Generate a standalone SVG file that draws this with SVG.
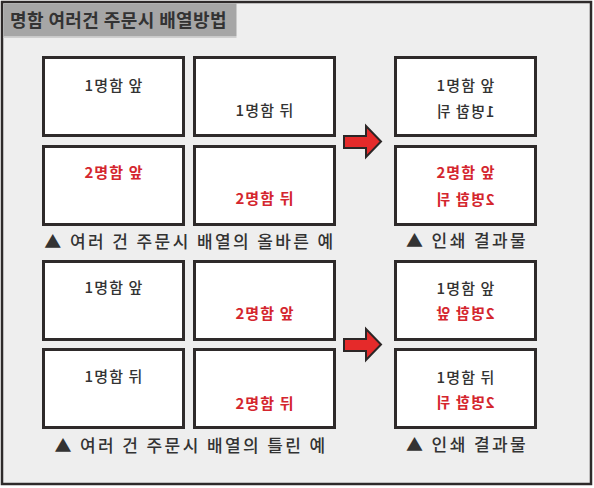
<svg xmlns="http://www.w3.org/2000/svg" width="594" height="488" viewBox="0 0 594 488">
<style>
text{font-family:"Noto Sans CJK KR","Noto Sans",sans-serif;fill:#333}
.card{fill:#fff;stroke:#2e2a2a;stroke-width:3}
.t{font-size:15px;font-weight:500;text-anchor:middle;letter-spacing:1.1px}
.red{fill:#d4262e;font-weight:bold}
.cap{font-size:17px;font-weight:500;text-anchor:middle;letter-spacing:2.4px}
.arrow{fill:#e52a2a;stroke:#2b2626;stroke-width:2;stroke-linejoin:miter}
</style>
<rect x="2" y="2" width="589" height="482" fill="#eeeeee" stroke="#2e2a2a" stroke-width="2.5"/>
<g id="title">
<rect x="3.5" y="3.5" width="233" height="33" fill="#a6a6a6"/>
<line x1="3.5" y1="37.5" x2="236.5" y2="37.5" stroke="#cfcfcf" stroke-width="1"/>
<text x="10" y="27" style="font-size:18px;font-weight:bold;letter-spacing:0.4px">명함 여러건 주문시 배열방법</text>
</g>
<g id="r1-front"><rect class="card" x="43.5" y="57.5" width="140" height="78"/><text class="t" x="114" y="91">1명함 앞</text></g>
<g id="r1-back"><rect class="card" x="194.5" y="57.5" width="140" height="78"/><text class="t" x="265" y="116">1명함 뒤</text></g>
<g id="r2-front"><rect class="card" x="43.5" y="146.5" width="140" height="78"/><text class="t red" x="114" y="178">2명함 앞</text></g>
<g id="r2-back"><rect class="card" x="194.5" y="146.5" width="140" height="78"/><text class="t red" x="265" y="204">2명함 뒤</text></g>
<g id="res1"><rect class="card" x="395.5" y="57.5" width="140" height="78"/><text class="t" x="466" y="91">1명함 앞</text><text class="t" transform="scale(-1,1)" x="-465" y="117">1명함 뒤</text></g>
<g id="res2"><rect class="card" x="395.5" y="146.5" width="140" height="78"/><text class="t red" x="466" y="178">2명함 앞</text><text class="t red" transform="scale(-1,1)" x="-465" y="205">2명함 뒤</text></g>
<g id="cap-correct"><text class="cap" x="190" y="248">▲ 여러 건 주문시 배열의 올바른 예</text></g>
<g id="cap-res1"><text class="cap" x="467" y="247">▲ 인쇄 결과물</text></g>
<g id="w1-front"><rect class="card" x="43.5" y="261.5" width="140" height="78"/><text class="t" x="114" y="293">1명함 앞</text></g>
<g id="w1-back"><rect class="card" x="194.5" y="261.5" width="140" height="78"/><text class="t red" x="265" y="319">2명함 앞</text></g>
<g id="w2-front"><rect class="card" x="43.5" y="349.5" width="140" height="78"/><text class="t" x="114" y="382">1명함 뒤</text></g>
<g id="w2-back"><rect class="card" x="194.5" y="349.5" width="140" height="78"/><text class="t red" x="265" y="409">2명함 뒤</text></g>
<g id="res3"><rect class="card" x="395.5" y="261.5" width="140" height="78"/><text class="t" x="466" y="294">1명함 앞</text><text class="t red" transform="scale(-1,1)" x="-465" y="319">2명함 앞</text></g>
<g id="res4"><rect class="card" x="395.5" y="349.5" width="140" height="78"/><text class="t" x="466" y="383">1명함 뒤</text><text class="t red" transform="scale(-1,1)" x="-465" y="408">2명함 뒤</text></g>
<g id="cap-wrong"><text class="cap" x="191" y="452">▲ 여러 건 주문시 배열의 틀린 예</text></g>
<g id="cap-res2"><text class="cap" x="467" y="451">▲ 인쇄 결과물</text></g>
<g id="connectors">
<polygon class="arrow" points="344,136 366,136 366,126 381,141.5 366,157 366,148 344,148"/>
<polygon class="arrow" points="344,339 366,339 366,329 381,344.5 366,360 366,351 344,351"/>
</g>
</svg>
